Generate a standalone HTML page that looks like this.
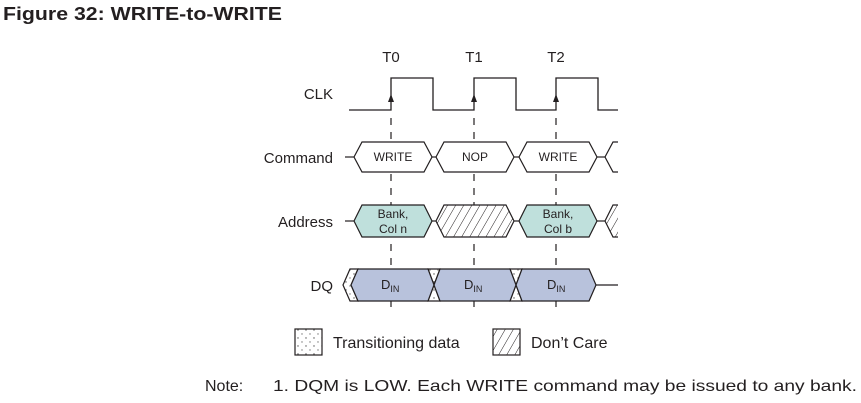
<!DOCTYPE html>
<html><head><meta charset="utf-8"><style>
html,body{margin:0;padding:0;background:#fff;width:861px;height:403px;overflow:hidden}
svg{display:block}
text{font-family:"Liberation Sans",sans-serif;fill:#231f20}
</style></head><body>
<svg width="861" height="403" viewBox="0 0 861 403" xmlns="http://www.w3.org/2000/svg">
<defs>
<pattern id="hatch" width="7" height="7" patternUnits="userSpaceOnUse" patternTransform="rotate(30)">
<rect width="7" height="7" fill="#fff"/><line x1="0" y1="0" x2="0" y2="7" stroke="#231f20" stroke-width="1"/>
</pattern>
<pattern id="dots" width="8" height="8" patternUnits="userSpaceOnUse">
<rect width="8" height="8" fill="#fff"/><circle cx="2" cy="2" r="0.7" fill="#555"/><circle cx="6" cy="6" r="0.7" fill="#777"/>
</pattern>
</defs>
<text x="3" y="20" font-size="18" font-weight="bold" textLength="279" lengthAdjust="spacingAndGlyphs">Figure 32: WRITE-to-WRITE</text>

<g font-size="15" text-anchor="end">
<text x="333" y="99">CLK</text>
<text x="333" y="163">Command</text>
<text x="333" y="227">Address</text>
<text x="333" y="291">DQ</text>
</g>
<g font-size="15" text-anchor="middle">
<text x="391" y="62">T0</text><text x="474" y="62">T1</text><text x="556" y="62">T2</text>
</g>

<polyline points="349,110 391,110 391,78 433,78 433,110 474,110 474,78 516,78 516,110 556,110 556,78 598,78 598,110 618,110" fill="none" stroke="#231f20" stroke-width="1.3"/>
<g fill="#231f20">
<polygon points="391,94 388,102 394,102"/><polygon points="474,94 471,102 477,102"/><polygon points="556,94 553,102 559,102"/>
</g>
<g stroke="#231f20" stroke-width="1.2" stroke-dasharray="7,7">
<line x1="391" y1="118" x2="391" y2="312"/><line x1="474" y1="118" x2="474" y2="312"/><line x1="556" y1="118" x2="556" y2="312"/>
</g>

<g stroke="#231f20" stroke-width="1.2" fill="#fff">
<line x1="345" y1="157" x2="354" y2="157"/>
<polygon points="354,157 362,142 424,142 432,157 424,172 362,172"/>
<line x1="432" y1="157" x2="436" y2="157"/>
<polygon points="436,157 444,142 506,142 514,157 506,172 444,172"/>
<line x1="514" y1="157" x2="519" y2="157"/>
<polygon points="519,157 527,142 589,142 597,157 589,172 527,172"/>
<line x1="597" y1="157" x2="605" y2="157"/>
<polyline points="618,142 613,142 605,157 613,172 618,172" fill="none"/>
</g>
<g font-size="12" text-anchor="middle">
<text x="393" y="161">WRITE</text><text x="475" y="161">NOP</text><text x="558" y="161">WRITE</text>
</g>

<g stroke="#231f20" stroke-width="1.2">
<line x1="345" y1="221" x2="354" y2="221"/>
<polygon points="354,221 362,205 424,205 432,221 424,237 362,237" fill="#bfe0dc"/>
<line x1="432" y1="221" x2="436" y2="221"/>
<polygon points="436,221 444,205 506,205 514,221 506,237 444,237" fill="url(#hatch)"/>
<line x1="514" y1="221" x2="519" y2="221"/>
<polygon points="519,221 527,205 589,205 597,221 589,237 527,237" fill="#bfe0dc"/>
<line x1="597" y1="221" x2="605" y2="221"/>
<polygon points="618,205 613,205 605,221 613,237 618,237" fill="url(#hatch)" stroke="none"/>
<polyline points="618,205 613,205 605,221 613,237 618,237" fill="none"/>
</g>
<g font-size="12" text-anchor="middle">
<text x="393" y="218">Bank,</text><text x="393" y="233">Col n</text>
<text x="558" y="218">Bank,</text><text x="558" y="233">Col b</text>
</g>

<g stroke="#231f20" stroke-width="1.2">
<polygon points="343,285 350,269 358,269 351,285 358,301 350,301" fill="url(#dots)"/>
<polygon points="428,269 440,269 434,285 440,301 428,301 434,285" fill="url(#dots)"/>
<polygon points="510,269 522,269 516,285 522,301 510,301 516,285" fill="url(#dots)"/>
<polygon points="351,285 358,269 428,269 434,285 428,301 358,301" fill="#b8c2dc"/>
<polygon points="434,285 440,269 510,269 516,285 510,301 440,301" fill="#b8c2dc"/>
<polygon points="516,285 522,269 589,269 596,285 589,301 522,301" fill="#b8c2dc"/>
<line x1="596" y1="285" x2="618" y2="285"/>
</g>
<g font-size="13">
<text x="381" y="289">D<tspan font-size="9" dy="3">IN</tspan></text>
<text x="464" y="289">D<tspan font-size="9" dy="3">IN</tspan></text>
<text x="547" y="289">D<tspan font-size="9" dy="3">IN</tspan></text>
</g>

<rect x="295" y="329" width="27" height="26" fill="url(#dots)" stroke="#231f20" stroke-width="1.2"/>
<text x="333" y="348" font-size="16">Transitioning data</text>
<rect x="493" y="329" width="27" height="26" fill="url(#hatch)" stroke="#231f20" stroke-width="1.2"/>
<text x="531" y="348" font-size="16">Don’t Care</text>

<text x="205" y="391" font-size="16">Note:</text>
<text x="273" y="391" font-size="16" textLength="584" lengthAdjust="spacingAndGlyphs">1.  DQM is LOW. Each WRITE command may be issued to any bank.</text>
</svg>
</body></html>
